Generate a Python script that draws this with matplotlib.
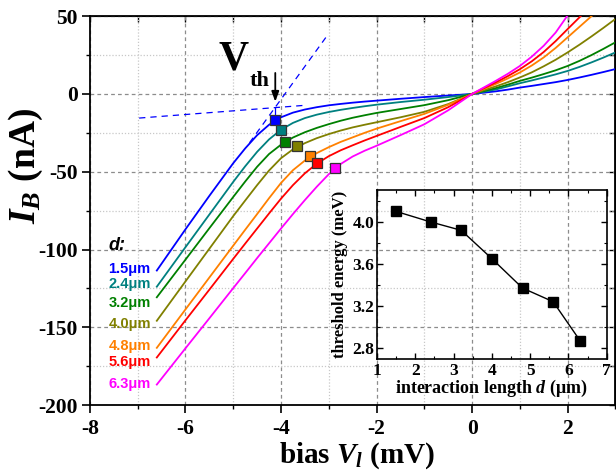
import matplotlib
matplotlib.use('Agg')
import matplotlib.pyplot as plt
from matplotlib.ticker import MultipleLocator, FixedLocator

plt.rcParams['font.family'] = ['Liberation Serif', 'DejaVu Serif']
plt.rcParams['font.weight'] = 'bold'
plt.rcParams['axes.unicode_minus'] = False
plt.rcParams['mathtext.fontset'] = 'custom'
plt.rcParams['mathtext.rm'] = 'Liberation Serif:bold'
plt.rcParams['mathtext.it'] = 'Liberation Serif:italic:bold'
plt.rcParams['mathtext.bf'] = 'Liberation Serif:bold'

# ---------------- data ----------------
bias = [-6.6, -6.0, -5.5, -5.0, -4.75, -4.5, -4.25, -4.0, -3.75, -3.5, -3.25, -3.0,
        -2.75, -2.5, -2.25, -2.0, -1.5, -1.0, -0.5, 0.0,
        0.5, 0.75, 1.0, 1.25, 1.5, 1.75, 2.0, 2.25, 2.5, 2.75, 3.0]
I_d15 = [-113.5, -87.0, -65.5, -44.5, -35.0, -26.5, -19.8, -15.0, -12.0, -10.0, -8.5, -7.3,
         -6.4, -5.6, -4.9, -4.3, -3.1, -2.0, -1.0, 0.0,
         1.7, 2.8, 4.1, 5.2, 6.4, 7.6, 9.0, 10.6, 12.3, 14.1, 16.0]
I_d24 = [-123.9, -98.5, -77.5, -56.5, -46.5, -37.2, -29.2, -23.0, -18.6, -15.5, -13.3, -11.6,
         -10.2, -9.0, -7.9, -6.9, -5.2, -3.7, -2.0, 0.0,
         2.9, 4.9, 6.9, 8.7, 10.6, 12.6, 14.8, 17.4, 20.3, 23.4, 26.7]
I_d32 = [-130.7, -106.5, -86.3, -66.2, -56.3, -46.8, -38.6, -32.6, -28.0, -24.6, -21.8, -19.4,
         -17.2, -15.3, -13.7, -12.2, -9.7, -7.2, -4.0, 0.0,
         3.8, 6.0, 8.4, 10.5, 12.8, 15.2, 18.0, 21.3, 25.0, 29.0, 33.2]
I_d40 = [-145.8, -120.5, -99.5, -78.5, -68.5, -58.6, -49.2, -41.3, -35.6, -31.6, -28.4, -25.8,
         -23.5, -21.5, -19.8, -18.2, -15.0, -11.5, -6.5, 0.0,
         4.9, 7.6, 10.6, 13.9, 17.8, 22.0, 26.7, 31.7, 37.0, 42.5, 48.2]
I_d48 = [-163.2, -138.5, -118.0, -97.5, -87.3, -77.2, -67.0, -57.2, -49.0, -42.8, -38.0, -34.2,
         -30.8, -27.9, -25.0, -22.3, -17.5, -12.8, -7.0, 0.0,
         6.5, 10.0, 13.8, 18.3, 23.5, 29.6, 36.4, 43.2, 50.0, 57.0, 64.0]
I_d56 = [-169.4, -145.5, -125.8, -106.0, -96.2, -86.5, -76.8, -67.3, -58.6, -51.0, -44.8, -40.0,
         -36.2, -33.0, -29.9, -27.0, -21.2, -15.5, -8.5, 0.0,
         7.5, 11.5, 15.9, 21.0, 27.0, 34.0, 41.7, 49.3, 57.0, 65.0, 73.0]
I_d63 = [-186.8, -163.5, -144.2, -124.8, -115.2, -105.5, -96.0, -86.5, -77.2, -68.2, -59.6, -51.6,
         -45.0, -40.2, -36.5, -33.3, -26.5, -19.5, -10.5, 0.0,
         8.5, 13.0, 18.0, 24.0, 31.0, 39.5, 50.5, 61.5, 72.5, 84.0, 95.0]
curves = [I_d15, I_d24, I_d32, I_d40, I_d48, I_d56, I_d63]
curve_labels = ['1.5\u03bcm', '2.4\u03bcm', '3.2\u03bcm', '4.0\u03bcm',
                '4.8\u03bcm', '5.6\u03bcm', '6.3\u03bcm']
colors = ['#0000FF', '#008080', '#008000', '#808000', '#FF8000', '#FF0000', '#FF00FF']

vth_bias = [-4.12, -4.01, -3.92, -3.67, -3.39, -3.24, -2.87]
vth_current = [-17.0, -23.0, -31.2, -33.7, -40.2, -44.5, -47.7]

# tangent construction for the 1.5 um curve
tan_low_v = [-6.97, -3.5]
tan_low_i = [-15.5, -7.3]
tan_high_v = [-4.66, -3.01]
tan_high_i = [-31.4, 38.5]
drop_v = [-4.13, -4.13]
drop_i = [-8.8, -16.0]

d_um = [1.5, 2.4, 3.2, 4.0, 4.8, 5.6, 6.3]
E_th = [4.10, 4.00, 3.92, 3.65, 3.37, 3.24, 2.87]

# ---------------- figure ----------------
fig = plt.figure(figsize=(6.16, 4.76), dpi=100)
ax = fig.add_axes([0.146, 0.149, 0.853, 0.817])
ax.set_xlim(-8, 3)
ax.set_ylim(-200, 50)

ax.xaxis.set_major_locator(MultipleLocator(2))
ax.xaxis.set_minor_locator(MultipleLocator(1))
ax.yaxis.set_major_locator(MultipleLocator(50))
ax.yaxis.set_minor_locator(MultipleLocator(25))
ax.grid(which='major', color='#8c8c8c', linestyle=(0, (3, 2.5)), linewidth=0.9)
ax.grid(which='minor', color='#c8c8c8', linestyle=(0, (1, 1.5)), linewidth=0.9)
ax.set_axisbelow(True)

ax.tick_params(which='major', direction='out', length=5.8, width=1.2,
               labelsize=15.5, pad=3)
ax.tick_params(axis='x', which='major', pad=4.5)
ax.tick_params(which='minor', direction='out', length=3, width=1.0)
for lab in ax.get_xticklabels() + ax.get_yticklabels():
    lab.set_fontweight('bold')
for s in ax.spines.values():
    s.set_linewidth(1.3)

# inward ticks on top / right
top = ax.secondary_xaxis('top')
top.xaxis.set_major_locator(MultipleLocator(2))
top.xaxis.set_minor_locator(MultipleLocator(1))
top.tick_params(which='both', direction='in', length=4, width=1.0, labeltop=False)
right = ax.secondary_yaxis('right')
right.yaxis.set_major_locator(MultipleLocator(50))
right.yaxis.set_minor_locator(MultipleLocator(25))
right.tick_params(which='both', direction='in', length=4, width=1.0, labelright=False)

for I, c in zip(curves, colors):
    ax.plot(bias, I, color=c, linewidth=1.3, zorder=3)

ax.plot(tan_low_v, tan_low_i, color='#0000FF', linewidth=0.9,
        linestyle=(0, (5, 4)), zorder=3)
ax.plot(tan_high_v, tan_high_i, color='#0000FF', linewidth=0.9,
        linestyle=(0, (5, 4)), zorder=3)
ax.plot(drop_v, drop_i, color='#0000FF', linewidth=0.9, zorder=3)

for v, i, c in zip(vth_bias, vth_current, colors):
    ax.plot([v], [i], marker='s', markersize=6.5, markerfacecolor=c,
            markeredgecolor='#333333', markeredgewidth=0.9, zorder=5,
            linestyle='none')

ax.annotate('', xy=(-4.12, -5.0), xytext=(-4.12, 13.5),
            arrowprops=dict(arrowstyle='-|>,head_length=0.6,head_width=0.22',
                            color='black', lw=1.3, shrinkA=0, shrinkB=0), zorder=6)
ax.text(-5.3, 16, 'V', fontsize=30, fontweight='bold', ha='left', va='baseline')
ax.text(-4.66, 5.2, 'th', fontsize=16, fontweight='bold', ha='left', va='baseline')

ax.text(-7.62, -100.3, 'd:', fontsize=13, fontweight='bold', style='italic',
        family='Liberation Sans', ha='left', va='baseline')
label_y = [-112.5, -122.1, -134.6, -147.9, -161.9, -172.6, -186.6]
for lab, c, y in zip(curve_labels, colors, label_y):
    ax.text(-7.61, y, lab, color=c, fontsize=10.5, fontweight='bold',
            family='Liberation Sans', ha='left', va='center')

fig.text(0.042, 0.651, r'$I_B$ (nA)', rotation=90, fontsize=27,
         fontweight='bold', ha='center', va='center')
fig.text(0.58, 0.043, r'bias $V_l$ (mV)', fontsize=21, fontweight='bold',
         ha='center', va='center')

# ---------------- inset ----------------
ins = fig.add_axes([0.612, 0.246, 0.373, 0.355])
ins.patch.set_alpha(0)
ins.set_xlim(1, 7)
ins.set_ylim(2.695, 4.305)
ins.plot(d_um, E_th, color='black', linewidth=1.0, marker='s', markersize=6.5,
         markerfacecolor='black', markeredgecolor='black')
ins.xaxis.set_major_locator(MultipleLocator(1))
ins.xaxis.set_minor_locator(MultipleLocator(0.5))
ins.yaxis.set_major_locator(FixedLocator([2.8, 3.2, 3.6, 4.0]))
ins.yaxis.set_minor_locator(FixedLocator([3.0, 3.4, 3.8, 4.2]))
ins.tick_params(which='major', direction='in', length=4, width=1.0,
                top=True, right=True, labelsize=12.5, pad=2)
ins.tick_params(axis='x', which='major', pad=3)
ins.tick_params(which='minor', direction='in', length=2.5, width=0.8,
                top=True, right=True)
ins.set_yticklabels(['2.8', '3.2', '3.6', '4.0'])
for lab in ins.get_xticklabels() + ins.get_yticklabels():
    lab.set_fontweight('bold')
for s in ins.spines.values():
    s.set_linewidth(1.2)
ins.set_xlabel('interaction length $d$ (\u03bcm)',
               fontsize=13, fontweight='bold', labelpad=-1)
ins.set_ylabel('threshold energy (meV)', fontsize=12, fontweight='bold', labelpad=3)

fig.savefig('out.png', dpi=100)
